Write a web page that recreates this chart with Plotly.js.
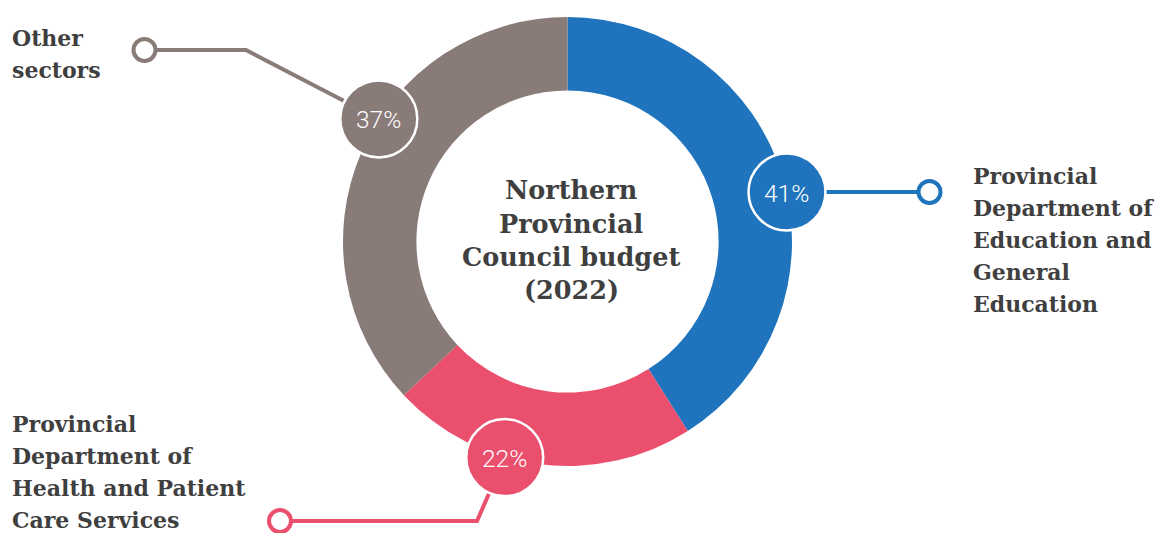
<!DOCTYPE html>
<html>
<head>
<meta charset="utf-8">
<script src="https://cdn.plot.ly/plotly-3.0.1.min.js"></script>
<style>html,body{margin:0;padding:0;background:#fff;}#chart{width:1159px;height:533px;}</style>
</head>
<body>
<div id="chart"></div>
<script>
// ---- data ----
const categories = [
  "Provincial Department of Education and General Education",
  "Provincial Department of Health and Patient Care Services",
  "Other sectors"
];
const shares = [41, 22, 37];
const labelLines = [
  ["Provincial", "Department of", "Education and", "General", "Education"],
  ["Provincial", "Department of", "Health and Patient", "Care Services"],
  ["Other", "sectors"]
];
const centerTitleLines = ["Northern", "Provincial", "Council budget", "(2022)"];
const colors = ["#1f74bd", "#ea4f6d", "#897b78"];

// ---- layout config (pixel geometry) ----
const W = 1159, H = 533;
const cx = 567.5, cy = 241.5, R = 224.5, holeFrac = 0.673;
const badgeAngles = [77.3, 196.2, 303];   // degrees clockwise from 12 o'clock
const badgeR = 225, badgeRadius = 38.5;
const leaders = [  // ring end, elbow points (pixel)
  {ring: [929.5, 192], pts: [[929.5, 192]]},
  {ring: [280, 521], pts: [[280, 521], [477, 521]]},
  {ring: [144.5, 50], pts: [[144.5, 50], [246, 50]]}
];
const labelPos = [
  {x: 973, base: 184},
  {x: 12, base: 432},
  {x: 12, base: 46}
];
const lineStep = 32;
const fs = 22, fsC = 25.5;
const txtColor = "#3f3f3f";
const labelFont = {family: "DejaVu Serif", size: fs, color: txtColor, weight: 700};
const centerFont = {family: "DejaVu Serif", size: fsC, color: txtColor, weight: 700};

const px = x => x / W;
const py = y => 1 - y / H;

const trace = {
  type: "pie",
  values: shares,
  labels: categories,
  marker: {colors: colors, line: {width: 0}},
  hole: holeFrac,
  sort: false,
  direction: "clockwise",
  rotation: 0,
  textinfo: "none",
  hoverinfo: "label+value",
  showlegend: false,
  domain: {x: [px(cx - R), px(cx + R)], y: [py(cy + R), py(cy - R)]}
};

const shapes = [];
const annotations = [];

shares.forEach((v, i) => {
  const a = badgeAngles[i] * Math.PI / 180;
  const bx = cx + badgeR * Math.sin(a);
  const by = cy - badgeR * Math.cos(a);
  // leader line
  const pts = leaders[i].pts.concat([[bx, by]]);
  let d = "M " + pts.map(p => px(p[0]) + "," + py(p[1])).join(" L ");
  shapes.push({type: "path", xref: "paper", yref: "paper", path: d,
    line: {color: colors[i], width: 4}, fillcolor: "rgba(0,0,0,0)"});
  // ring end
  const rr = 11, rg = leaders[i].ring;
  shapes.push({type: "circle", xref: "paper", yref: "paper",
    x0: px(rg[0] - rr), x1: px(rg[0] + rr), y0: py(rg[1] + rr), y1: py(rg[1] - rr),
    fillcolor: "#ffffff", line: {color: colors[i], width: 4}});
  // badge
  shapes.push({type: "circle", xref: "paper", yref: "paper",
    x0: px(bx - badgeRadius), x1: px(bx + badgeRadius), y0: py(by + badgeRadius), y1: py(by - badgeRadius),
    fillcolor: colors[i], line: {color: "#ffffff", width: 2.5}});
  annotations.push({xref: "paper", yref: "paper", x: px(bx), y: py(by + 1),
    xanchor: "center", yanchor: "middle", showarrow: false,
    text: v + "%", font: {family: "Roboto", size: 24.5, color: "#ffffff", weight: 300}});
  // category label lines
  labelLines[i].forEach((t, k) => {
    const base = labelPos[i].base + k * lineStep;
    annotations.push({xref: "paper", yref: "paper", x: px(labelPos[i].x - 2), y: py(base - 0.345 * fs),
      xanchor: "left", yanchor: "middle", showarrow: false, align: "left",
      text: t, font: labelFont});
  });
});

centerTitleLines.forEach((t, k) => {
  const base = 199 + k * 33.3;
  annotations.push({xref: "paper", yref: "paper", x: px(571), y: py(base - 0.345 * fsC),
    xanchor: "center", yanchor: "middle", showarrow: false,
    text: t, font: centerFont});
});

const layout = {
  width: W, height: H,
  margin: {l: 0, r: 0, t: 0, b: 0},
  paper_bgcolor: "#ffffff", plot_bgcolor: "#ffffff",
  shapes: shapes,
  annotations: annotations,
  showlegend: false
};

Plotly.newPlot("chart", [trace], layout, {displayModeBar: false, staticPlot: true});
</script>
</body>
</html>
